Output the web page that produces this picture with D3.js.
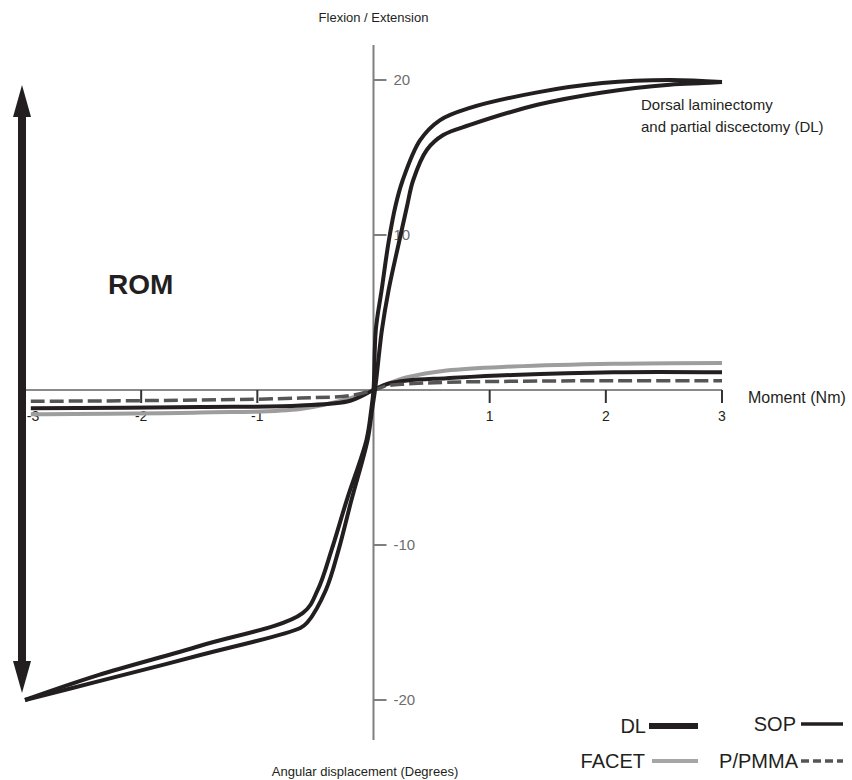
<!DOCTYPE html>
<html>
<head>
<meta charset="utf-8">
<script src="https://cdn.jsdelivr.net/npm/d3@7"></script>
<style>
  body { margin: 0; background: #fff; }
  text { font-family: "Liberation Sans", Arial, sans-serif; }
</style>
</head>
<body>
<svg id="chart" width="852" height="780"></svg>
<script>
// ticks
var xTicks = [-3, -2, -1, 1, 2, 3];
var yTicks = [-20, -10, 10, 20];

// DL loop, two branches [moment, degrees]
var dlLeft = [[-3,-20],[-2.37,-18.4],[-1.49,-16.5],[-0.61,-14.4],[-0.48,-12.9],
  [-0.36,-10.3],[-0.23,-7.1],[-0.06,-3.2],[-0.02,-1.3],[0,0],[0.02,3.9],[0.07,6.45],[0.13,9.55],
  [0.19,11.9],[0.25,13.5],[0.40,16.1],[0.57,17.4],[0.83,18.2],[1.41,19.2],[1.97,19.8],[2.55,20.0],[3,19.87]];
var dlRight = [[-3,-20],[-2.37,-18.8],[-1.49,-17.1],[-0.63,-15.35],[-0.57,-15.0],
  [-0.41,-12.9],[-0.30,-10.3],[-0.19,-7.1],[-0.05,-3.2],[-0.013,-1.3],[0.013,0],[0.073,3.9],[0.13,6.45],
  [0.22,9.55],[0.29,11.9],[0.34,13.5],[0.46,15.5],[0.60,16.45],[0.83,17.1],[1.41,18.4],[1.97,19.2],
  [2.55,19.7],[2.84,19.8],[3,19.87]];

// small curves
var facet = [[-2.95,-1.56],[-1.49,-1.45],[-0.63,-1.23],[-0.2,-0.52],[0,0],[0.12,0.39],[0.29,0.82],
  [0.63,1.26],[1.2,1.52],[2.07,1.7],[3,1.75]];
var sop = [[-2.95,-1.18],[-1.49,-1.1],[-0.63,-1.0],[-0.2,-0.69],[0,0],[0.12,0.39],[0.29,0.61],
  [0.63,0.76],[1.2,0.97],[2.07,1.15],[3,1.15]];
var pmma = [[-2.95,-0.73],[-1.49,-0.65],[-0.63,-0.52],[-0.2,-0.36],[0,0],[0.12,0.28],[0.29,0.39],
  [0.63,0.5],[1.2,0.56],[2.07,0.6],[3,0.6]];

var romRange = [-20, 20];

var ink = "#231f20";
var svg = d3.select("#chart");

var x = d3.scaleLinear().domain([-3, 3]).range([25, 722]);
var y = d3.scaleLinear().domain([-20, 20]).range([700, 80]);

var line = d3.line()
  .x(function(d) { return x(d[0]); })
  .y(function(d) { return y(d[1]); })
  .curve(d3.curveCatmullRom.alpha(0.5));

// y axis (vertical at moment 0)
svg.append("line")
  .attr("x1", x(0)).attr("x2", x(0))
  .attr("y1", 45).attr("y2", 740)
  .attr("stroke", "#7f7f7f").attr("stroke-width", 2);

svg.selectAll(".ytick").data(yTicks).enter().append("line")
  .attr("x1", x(0)).attr("x2", x(0) + 13)
  .attr("y1", function(d) { return y(d); }).attr("y2", function(d) { return y(d); })
  .attr("stroke", "#7f7f7f").attr("stroke-width", 2);

svg.selectAll(".ylab").data(yTicks).enter().append("text")
  .attr("x", x(0) + 20)
  .attr("y", function(d) { return y(d) + 5; })
  .attr("font-size", 15).attr("fill", "#6d6d6d")
  .text(function(d) { return d; });

// x axis
svg.append("line")
  .attr("x1", x(-3)).attr("x2", x(3))
  .attr("y1", y(0)).attr("y2", y(0))
  .attr("stroke", "#8a8a8a").attr("stroke-width", 2);

svg.selectAll(".xtick").data(xTicks).enter().append("line")
  .attr("x1", function(d) { return x(d); }).attr("x2", function(d) { return x(d); })
  .attr("y1", y(0)).attr("y2", y(0) + 13)
  .attr("stroke", "#333").attr("stroke-width", 2);

svg.selectAll(".xlab").data(xTicks).enter().append("text")
  .attr("x", function(d) { return d == -3 ? x(d) + 8 : x(d); })
  .attr("y", y(0) + 31)
  .attr("text-anchor", "middle")
  .attr("font-size", 14).attr("fill", ink)
  .text(function(d) { return d; });

// small curves
svg.append("path").datum(facet).attr("d", line)
  .attr("fill", "none").attr("stroke", "#9d9d9d").attr("stroke-width", 4);
svg.append("path").datum(sop).attr("d", line)
  .attr("fill", "none").attr("stroke", ink).attr("stroke-width", 4);
svg.append("path").datum(pmma).attr("d", line)
  .attr("fill", "none").attr("stroke", "#555").attr("stroke-width", 3.5)
  .attr("stroke-dasharray", "14,5");

// DL loop
[dlLeft, dlRight].forEach(function(branch) {
  svg.append("path").datum(branch).attr("d", line)
    .attr("fill", "none").attr("stroke", ink).attr("stroke-width", 4)
    .attr("stroke-linejoin", "miter");
});

// ROM arrow
var ax = x(-3) - 3;
var tipTop = y(romRange[1]) + 5, tipBot = y(romRange[0]) - 7;
svg.append("line")
  .attr("x1", ax).attr("x2", ax)
  .attr("y1", tipTop + 30).attr("y2", tipBot - 30)
  .attr("stroke", ink).attr("stroke-width", 8);
svg.append("path")
  .attr("d", "M" + ax + "," + tipTop + "L" + (ax + 9) + "," + (tipTop + 32) + "L" + (ax - 9) + "," + (tipTop + 32) + "Z")
  .attr("fill", ink);
svg.append("path")
  .attr("d", "M" + ax + "," + tipBot + "L" + (ax + 9) + "," + (tipBot - 32) + "L" + (ax - 9) + "," + (tipBot - 32) + "Z")
  .attr("fill", ink);

svg.append("text").attr("x", 108).attr("y", 294)
  .attr("font-size", 28).attr("font-weight", "bold").attr("fill", ink)
  .text("ROM");

// titles
svg.append("text").attr("x", x(0)).attr("y", 22)
  .attr("text-anchor", "middle").attr("font-size", 13).attr("fill", ink)
  .text("Flexion / Extension");
svg.append("text").attr("x", 365).attr("y", 776)
  .attr("text-anchor", "middle").attr("font-size", 13).attr("fill", ink)
  .text("Angular displacement (Degrees)");
svg.append("text").attr("x", 748).attr("y", 403)
  .attr("font-size", 16).attr("fill", ink)
  .text("Moment (Nm)");

svg.append("text").attr("x", 641).attr("y", 110)
  .attr("font-size", 15).attr("fill", ink)
  .text("Dorsal laminectomy");
svg.append("text").attr("x", 641).attr("y", 132)
  .attr("font-size", 15).attr("fill", ink)
  .text("and partial discectomy (DL)");

// legend
var legend = [
  { name: "DL", tx: 646, x1: 649, x2: 698, y: 726, color: ink, w: 6, dash: null },
  { name: "SOP", tx: 796, x1: 801, x2: 843, y: 724, color: ink, w: 3.5, dash: null },
  { name: "FACET", tx: 645, x1: 652, x2: 698, y: 761, color: "#a6a6a6", w: 4, dash: null },
  { name: "P/PMMA", tx: 798, x1: 801, x2: 843, y: 761, color: "#555", w: 3.5, dash: "8,4" }
];
legend.forEach(function(d) {
  svg.append("text").attr("x", d.tx).attr("y", d.y + 7)
    .attr("text-anchor", "end").attr("font-size", 20).attr("fill", ink)
    .text(d.name);
  svg.append("line").attr("x1", d.x1).attr("x2", d.x2).attr("y1", d.y).attr("y2", d.y)
    .attr("stroke", d.color).attr("stroke-width", d.w)
    .attr("stroke-dasharray", d.dash);
});
</script>
</body>
</html>
